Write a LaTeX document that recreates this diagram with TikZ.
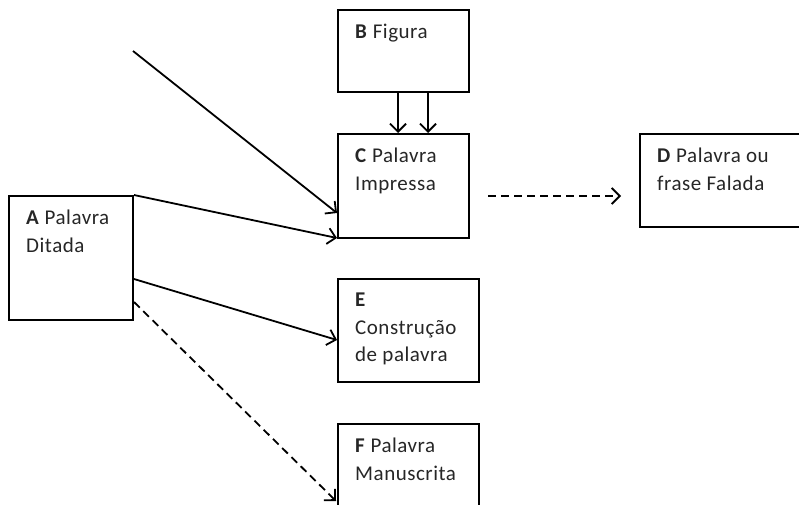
\documentclass[tikz,border=0pt]{standalone}
\usepackage{fontspec}
\setmainfont{Carlito}[LetterSpace=2.5]
\usetikzlibrary{arrows.meta}
\tikzset{box/.style={draw, line width=2pt, inner sep=0pt}}
\tikzset{txt/.style={anchor=north west, inner sep=0pt, align=left, text=black!85, font=\fontsize{21}{27.5}\selectfont}}
\tikzset{flow/.style={line width=1.8pt, -{Straight Barb[length=8pt, width=16pt, line width=1.8pt]}}}
\tikzset{dashflow/.style={flow, dash pattern=on 8pt off 5pt}}
\begin{document}
\begin{tikzpicture}[x=1pt, y=-1pt]
            \useasboundingbox (0, 0) rectangle (799, 504);
            \node[box, minimum width=124, minimum height=124] (a) at (71, 258) {};
            \node[box, minimum width=131, minimum height=82] (b) at (403.5, 51) {};
            \node[box, minimum width=131, minimum height=104] (c) at (403.5, 186) {};
            \node[box, minimum width=160, minimum height=93] (d) at (720, 180.5) {};
            \node[box, minimum width=141, minimum height=103] (e) at (408.5, 330.5) {};
            \node[box, minimum width=141, minimum height=100] (f) at (408.5, 474) {};
            \node[txt] (at) at ([shift={(18pt, -15pt)}]a.north west) {\textbf{A} Palavra\\Ditada};
            \node[txt] (bt) at ([shift={(18pt, -15pt)}]b.north west) {\textbf{B} Figura};
            \node[txt] (ct) at ([shift={(18pt, -15pt)}]c.north west) {\textbf{C} Palavra\\Impressa};
            \node[txt] (dt) at ([shift={(18pt, -15pt)}]d.north west) {\textbf{D} Palavra ou\\frase Falada};
            \node[txt] (et) at ([shift={(18pt, -15pt)}]e.north west) {\textbf{E}\\Constru\c{c}\~ao\\de palavra};
            \node[txt] (ft) at ([shift={(18pt, -15pt)}]f.north west) {\textbf{F} Palavra\\Manuscrita};
            \coordinate (src) at (133, 51);
            \draw[flow] (src) -- ([yshift=-27pt]c.west);
            \draw[flow] (a.north east) -- ([yshift=1pt]c.south west);
            \draw[flow] ([yshift=-21pt]a.east) -- ([yshift=-9.5pt]e.west);
            \draw[dashflow] ([yshift=-44pt]a.east) -- ([shift={(-1pt, -78pt)}]f.north west);
            \foreach \dx in {-5.5, 24.5} {
                \draw[flow] ([xshift=\dx pt]b.south) -- ([xshift=\dx pt]c.north);
            }
            \draw[dashflow] ([shift={(18pt, -10pt)}]c.east) -- ([shift={(-18pt, -15.5pt)}]d.west);
        \end{tikzpicture}
\end{document}
